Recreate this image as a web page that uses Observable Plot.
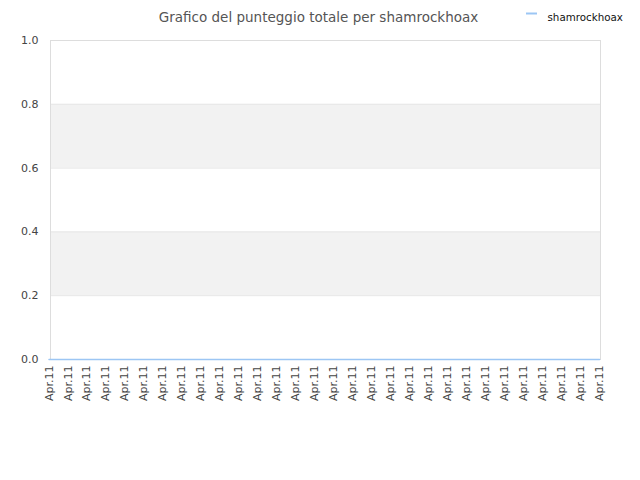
<!DOCTYPE html>
<html>
<head>
<meta charset="utf-8">
<script src="https://cdn.jsdelivr.net/npm/d3@7"></script>
<script src="https://cdn.jsdelivr.net/npm/@observablehq/plot@0.6"></script>
<style>
  html, body { margin: 0; padding: 0; background: #fff; }
  svg { font-family: "DejaVu Sans", sans-serif; }
</style>
</head>
<body>
<div id="chart"></div>
<script>
const title = "Grafico del punteggio totale per shamrockhoax";
const seriesName = "shamrockhoax";
const dateLabels = ["Apr.11","Apr.11","Apr.11","Apr.11","Apr.11","Apr.11","Apr.11","Apr.11","Apr.11","Apr.11",
                    "Apr.11","Apr.11","Apr.11","Apr.11","Apr.11","Apr.11","Apr.11","Apr.11","Apr.11","Apr.11",
                    "Apr.11","Apr.11","Apr.11","Apr.11","Apr.11","Apr.11","Apr.11","Apr.11","Apr.11","Apr.11"];
const scores = [0,0,0,0,0,0,0,0,0,0,0,0,0,0,0,0,0,0,0,0,0,0,0,0,0,0,0,0,0,0];
const yTicks = [0, 0.2, 0.4, 0.6, 0.8, 1.0];
const bandStarts = [0.2, 0.6];
const bandWidth = 0.2;

const data = scores.map((v, i) => ({i, v}));
const bands = bandStarts.map(b => ({y1: b, y2: b + bandWidth}));
const lineColor = "#9cc6f4";

const chart = Plot.plot({
  width: 640,
  height: 480,
  marginTop: 40,
  marginLeft: 50,
  marginRight: 40,
  marginBottom: 121,
  style: {fontFamily: "DejaVu Sans, sans-serif", fontSize: "11px", color: "#444", background: "#fff"},
  x: {type: "point", domain: d3.range(dateLabels.length), range: [48.5, 599], padding: 0, round: false, axis: null, label: null},
  y: {domain: [0, 1], axis: null, label: null},
  marks: [
    Plot.rectY(bands, {y1: "y1", y2: "y2", fill: "#f2f2f2"}),
    Plot.ruleY(yTicks.slice(1, -1), {stroke: "#e6e6e6"}),
    Plot.frame({stroke: "#dddddd"}),
    Plot.axisY({ticks: yTicks, tickSize: 0, tickPadding: 12, tickFormat: d3.format(".1f"), fill: "#444", fontSize: 11, label: null}),
    Plot.axisX({ticks: d3.range(dateLabels.length), tickFormat: i => dateLabels[i], tickRotate: -90, tickSize: 0, tickPadding: 6, fill: "#444", fontSize: 11, label: null}),
    Plot.line(data, {x: "i", y: "v", stroke: lineColor, strokeWidth: 1.5}),
    Plot.text([title], {frameAnchor: "top", dx: -7, dy: -28, fontSize: 13.5, fill: "#555"}),
    Plot.text([seriesName], {frameAnchor: "top-right", dx: -53, dy: -27, textAnchor: "start", fontSize: 10.3, fill: "#111"})
  ]
});

// legend swatch
d3.select(chart).append("line")
  .attr("x1", 526).attr("x2", 537).attr("y1", 13.5).attr("y2", 13.5)
  .attr("stroke", lineColor).attr("stroke-width", 2);

document.getElementById("chart").appendChild(chart);
</script>
</body>
</html>
